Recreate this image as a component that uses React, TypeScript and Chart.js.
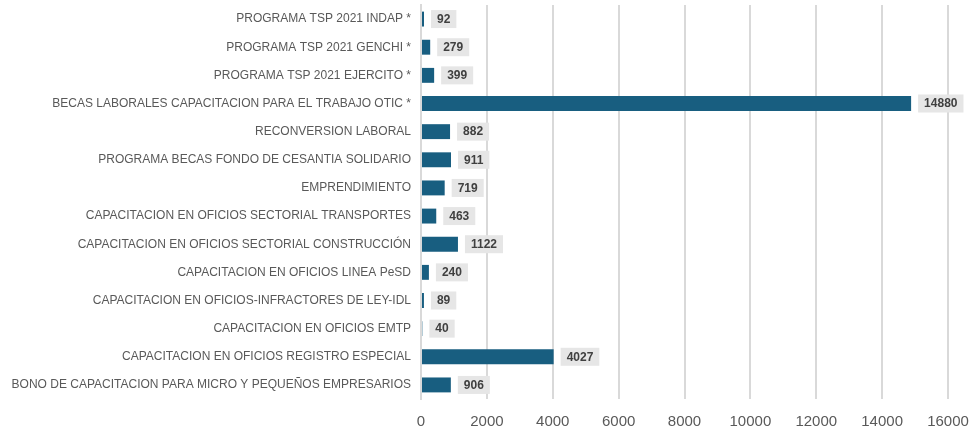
import React, { useEffect, useRef } from "react";
import { Chart, registerables } from "chart.js";

Chart.register(...registerables);

const categories = [
  "PROGRAMA TSP 2021 INDAP *",
  "PROGRAMA TSP 2021 GENCHI *",
  "PROGRAMA TSP 2021 EJERCITO *",
  "BECAS LABORALES CAPACITACION PARA EL TRABAJO OTIC *",
  "RECONVERSION LABORAL",
  "PROGRAMA BECAS FONDO DE CESANTIA SOLIDARIO",
  "EMPRENDIMIENTO",
  "CAPACITACION EN OFICIOS SECTORIAL TRANSPORTES",
  "CAPACITACION EN OFICIOS SECTORIAL CONSTRUCCIÓN",
  "CAPACITACION EN OFICIOS LINEA PeSD",
  "CAPACITACION EN OFICIOS-INFRACTORES DE LEY-IDL",
  "CAPACITACION EN OFICIOS EMTP",
  "CAPACITACION EN OFICIOS REGISTRO ESPECIAL",
  "BONO DE CAPACITACION PARA MICRO Y PEQUEÑOS EMPRESARIOS",
];

const values = [92, 279, 399, 14880, 882, 911, 719, 463, 1122, 240, 89, 40, 4027, 906];

const xTicks = [0, 2000, 4000, 6000, 8000, 10000, 12000, 14000, 16000];

const FONT = "'Liberation Sans', Arial, sans-serif";

const labelPlugin = {
  id: "valueLabels",
  afterDatasetsDraw(chart: any) {
    const ctx = chart.ctx;
    const meta = chart.getDatasetMeta(0);
    ctx.save();
    ctx.font = `bold 12px ${FONT}`;
    ctx.textBaseline = "middle";
    ctx.textAlign = "left";
    meta.data.forEach((bar: any, i: number) => {
      const txt = String(values[i]);
      const tw = ctx.measureText(txt).width;
      const bx = bar.x + 7;
      const bw = tw + 12;
      const bh = 18;
      ctx.fillStyle = "#E6E6E6";
      ctx.fillRect(bx, bar.y - bh / 2, bw, bh);
      ctx.fillStyle = "#404040";
      ctx.fillText(txt, bx + 6, bar.y + 0.5);
    });
    ctx.restore();
  },
};

export default function App() {
  const ref = useRef<HTMLCanvasElement>(null);
  useEffect(() => {
    document.body.style.margin = "0";
    const chart = new Chart(ref.current!, {
      type: "bar",
      data: {
        labels: categories,
        datasets: [
          {
            data: values,
            backgroundColor: "#185E80",
            borderWidth: 0,
            categoryPercentage: 1,
            barPercentage: 0.53,
          },
        ],
      },
      options: {
        indexAxis: "y",
        animation: false,
        responsive: false,
        layout: { padding: { top: 5, right: 26, bottom: 0, left: 0 } },
        plugins: { legend: { display: false }, tooltip: { enabled: false } },
        scales: {
          x: {
            min: 0,
            max: 16000,
            afterBuildTicks: (scale: any) => {
              scale.ticks = xTicks.map((v) => ({ value: v }));
            },
            afterFit: (scale: any) => {
              scale.height = 33;
              scale.paddingLeft = 0;
              scale.paddingRight = 0;
            },
            grid: { color: "#D9D9D9", lineWidth: 2, drawTicks: false },
            border: { display: false },
            ticks: {
              color: "#595959",
              font: { family: FONT, size: 15 },
              padding: 14,
              maxRotation: 0,
              callback: (v: any) => String(v),
            },
          },
          y: {
            afterFit: (scale: any) => {
              scale.width = 421;
              scale.paddingTop = 0;
              scale.paddingBottom = 0;
            },
            grid: { display: false, drawTicks: false },
            border: { display: true, color: "#D9D9D9", width: 2 },
            ticks: {
              autoSkip: false,
              color: "#595959",
              font: { family: FONT, size: 12 },
              padding: 10,
            },
          },
        },
      },
      plugins: [labelPlugin],
    });
    return () => chart.destroy();
  }, []);
  return (
    <div style={{ width: 974, height: 432 }}>
      <canvas ref={ref} width={974} height={432} />
    </div>
  );
}
